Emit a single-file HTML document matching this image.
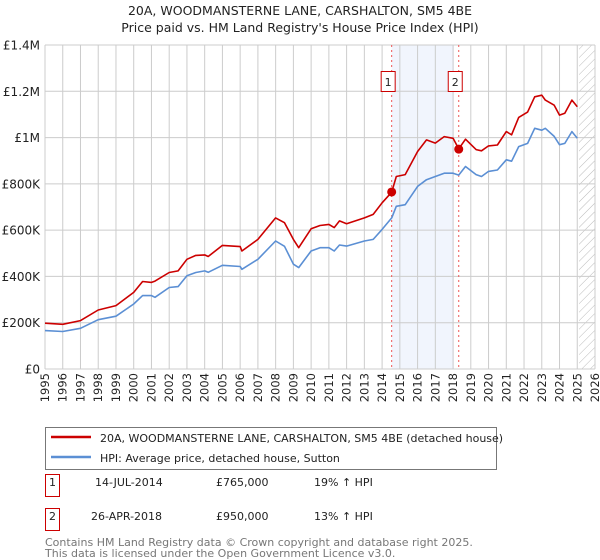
<!DOCTYPE html>
<html><head><meta charset="utf-8">
<style>
body{margin:0;background:#fff;font-family:"Liberation Sans","DejaVu Sans",sans-serif;}
svg{display:block}
text{font-family:"DejaVu Sans","Liberation Sans",sans-serif;}
</style></head>
<body>
<svg id="chart" width="600" height="560" viewBox="0 0 600 560">
<text x="300" y="15" text-anchor="middle" font-size="12.5" fill="#222">20A, WOODMANSTERNE LANE, CARSHALTON, SM5 4BE</text>
<text x="300" y="32" text-anchor="middle" font-size="12.5" fill="#222">Price paid vs. HM Land Registry's House Price Index (HPI)</text>
<defs>
<pattern id="hatch" width="6" height="6" patternUnits="userSpaceOnUse" patternTransform="rotate(45)">
<line x1="0" y1="0" x2="0" y2="6" stroke="#bbb" stroke-width="1"/>
</pattern>
</defs>
<g id="plot"></g>
<g>
<rect x="45.5" y="427.5" width="451" height="42" fill="#fff" stroke="#777"/>
<line x1="51" y1="437" x2="91" y2="437" stroke="#cc0000" stroke-width="2.5"/>
<text x="100" y="442" font-size="11" fill="#222">20A, WOODMANSTERNE LANE, CARSHALTON, SM5 4BE (detached house)</text>
<line x1="51" y1="457" x2="91" y2="457" stroke="#5b8fd4" stroke-width="2.5"/>
<text x="100" y="462" font-size="11" fill="#222">HPI: Average price, detached house, Sutton</text>
</g>
<g>
<rect x="45.5" y="474.5" width="14" height="22" fill="#fff" stroke="#cc0000"/>
<text x="52.5" y="486" text-anchor="middle" font-size="11" fill="#222">1</text>
<text x="95" y="486" font-size="11" fill="#222">14-JUL-2014</text>
<text x="216" y="486" font-size="11" fill="#222">£765,000</text>
<text x="314" y="486" font-size="11" fill="#222">19% ↑ HPI</text>
<rect x="45.5" y="508.5" width="14" height="22" fill="#fff" stroke="#cc0000"/>
<text x="52.5" y="520" text-anchor="middle" font-size="11" fill="#222">2</text>
<text x="91" y="520" font-size="11" fill="#222">26-APR-2018</text>
<text x="216" y="520" font-size="11" fill="#222">£950,000</text>
<text x="314" y="520" font-size="11" fill="#222">13% ↑ HPI</text>
</g>
<text x="45" y="546" font-size="11" fill="#777">Contains HM Land Registry data © Crown copyright and database right 2025.</text>
<text x="45" y="557" font-size="11" fill="#777">This data is licensed under the Open Government Licence v3.0.</text>
</svg>
<script>
const years=[1995,1996,1997,1998,1999,2000,2000.5,2001,2001.2,2002,2002.5,2003,2003.5,2004,2004.2,2005,2006,2006.1,2007,2008,2008.5,2009,2009.3,2010,2010.5,2011,2011.3,2011.6,2012,2013,2013.5,2014,2014.54,2014.8,2015.3,2016,2016.5,2017,2017.5,2018,2018.32,2018.7,2019.3,2019.6,2020,2020.5,2021,2021.3,2021.7,2022.2,2022.6,2023,2023.2,2023.7,2024,2024.3,2024.7,2025];
const hpiValues=[166,162,176,213,228,281,317,317,310,352,356,403,417,424,418,448,443,431,474,553,530,453,438,510,524,524,510,536,531,553,560,603,653,703,710,789,818,832,846,846,838,875,840,832,854,860,904,898,961,975,1040,1032,1040,1005,969,975,1026,997];
const propValues=[198,193,209,255,274,331,378,374,380,417,424,474,491,493,486,534,529,510,560,653,632,560,524,606,620,625,611,640,628,653,668,718,764,832,840,940,990,976,1004,997,951,993,948,943,964,968,1026,1012,1087,1110,1176,1183,1162,1140,1097,1105,1162,1133];
const yTicks=[0,200,400,600,800,1000,1200,1400];
const yTickLabels=["£0","£200K","£400K","£600K","£800K","£1M","£1.2M","£1.4M"];
const xTicks=[1995,1996,1997,1998,1999,2000,2001,2002,2003,2004,2005,2006,2007,2008,2009,2010,2011,2012,2013,2014,2015,2016,2017,2018,2019,2020,2021,2022,2023,2024,2025,2026];
const saleDates=[2014.54,2018.32];
const salePrices=[765,950];
const saleLabels=["1","2"];

const X0=45,X1=595,Y0=369,Y1=45;
const xS=y=>X0+(y-1995)*(X1-X0)/31;
const yS=v=>Y0-v*(Y0-Y1)/1400;
const NS="http://www.w3.org/2000/svg";
const g=document.getElementById('plot');
function mk(t,a){const e=document.createElementNS(NS,t);for(const k in a)e.setAttribute(k,a[k]);g.appendChild(e);return e;}

let e=mk('rect',{x:xS(saleDates[0]),y:Y1,width:xS(2018.05)-xS(saleDates[0]),height:Y0-Y1,fill:'#eef3fc',opacity:0.8});


e=mk('rect',{x:xS(2025.1),y:Y1,width:X1-xS(2025.1),height:Y0-Y1,fill:'url(#hatch)'});



xTicks.forEach(t=>{
  const l=mk('line',{x1:xS(t),x2:xS(t),y1:Y1,y2:Y0,stroke:'#ccc','stroke-width':1});
  
  
  const tx=mk('text',{x:0,y:0,'font-size':11.5,fill:'#222','text-anchor':'end',transform:`translate(${xS(t)+4},${Y0+4}) rotate(-90)`});
  tx.textContent=t;
  
  
});
yTicks.forEach((t,i)=>{
  const l=mk('line',{x1:X0,x2:X1,y1:yS(t),y2:yS(t),stroke:'#ccc','stroke-width':1});
  
  
  const tx=mk('text',{x:X0-5,y:yS(t)+4.5,'font-size':12,fill:'#222','text-anchor':'end'});
  tx.textContent=yTickLabels[i];
  
  
});
e=mk('line',{x1:X0,x2:X0,y1:Y1,y2:Y0,stroke:'#ccc'});



saleDates.forEach((d,i)=>{
  const l=mk('line',{x1:xS(d),x2:xS(d),y1:Y1,y2:Y0,stroke:'#ee5555','stroke-width':1,'stroke-dasharray':'2,3'});
  
  
  const r=mk('rect',{x:xS(d)-10.5,y:71.5,width:14,height:20,fill:'#fff',stroke:'#cc0000'});
  
  
  const t=mk('text',{x:xS(d)-3.5,y:86,'font-size':11,fill:'#222','text-anchor':'middle'});
  t.textContent=saleLabels[i];
  
  
});

const pts=v=>years.map((y,i)=>xS(y).toFixed(1)+','+yS(v[i]).toFixed(1)).join(' ');
e=mk('polyline',{points:pts(hpiValues),fill:'none',stroke:'#5b8fd4','stroke-width':1.6,'stroke-linejoin':'round'});


e=mk('polyline',{points:pts(propValues),fill:'none',stroke:'#cc0000','stroke-width':1.6,'stroke-linejoin':'round'});


saleDates.forEach((d,i)=>{
  const c=mk('circle',{cx:xS(d),cy:yS(salePrices[i]),r:4.5,fill:'#cc0000'});
  
  
});
</script>
</body></html>
